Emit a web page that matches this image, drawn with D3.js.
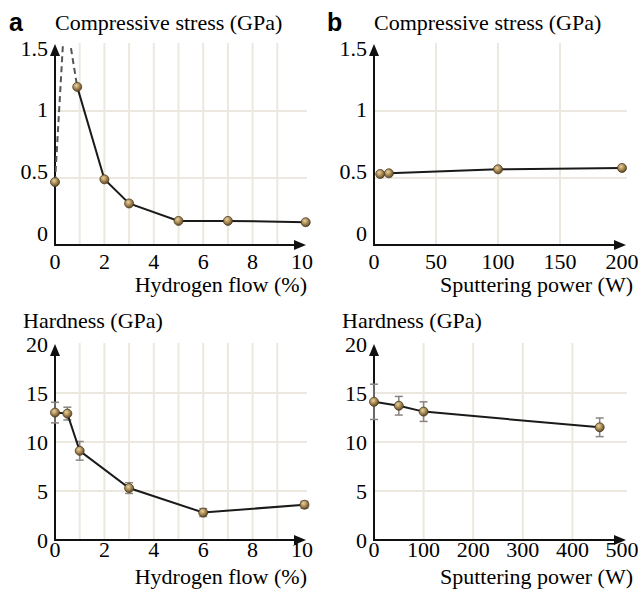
<!DOCTYPE html>
<html>
<head>
<meta charset="utf-8">
<script src="https://cdn.jsdelivr.net/npm/d3@7"></script>
</head>
<body style="margin:0">
<script>
// panel a, top: compressive stress vs hydrogen flow
var aStressX = [0, 0.9, 2, 3, 5, 7, 10.15];
var aStressY = [0.47, 1.18, 0.49, 0.31, 0.18, 0.18, 0.17];
// dashed excursion between first two points (peak off the chart)
var aPeakX = [0, 0.4, 0.9];
var aPeakY = [0.47, 1.75, 1.18];

// panel b, top: compressive stress vs sputtering power
var bStressX = [5, 12, 100, 200];
var bStressY = [0.53, 0.535, 0.565, 0.575];

// panel a, bottom: hardness vs hydrogen flow
var aHardX = [0, 0.5, 1, 3, 6, 10.1];
var aHardY = [13.0, 12.9, 9.1, 5.3, 2.8, 3.6];
var aHardErr = [1.05, 0.65, 0.95, 0.55, 0.4, 0.35];

// panel b, bottom: hardness vs sputtering power
var bHardX = [0, 50, 100, 455];
var bHardY = [14.1, 13.7, 13.1, 11.5];
var bHardErr = [1.8, 0.95, 1.0, 0.95];

var stressTicks = [0, 0.5, 1, 1.5];
var hardTicks = [0, 5, 10, 15, 20];
var flowTicks = [0, 2, 4, 6, 8, 10];
var powerTicksTop = [0, 50, 100, 150, 200];
var powerTicksBottom = [0, 100, 200, 300, 400, 500];

var serifStack = "'Liberation Serif', Tinos, 'Nimbus Roman', 'Times New Roman', FreeSerif, 'DejaVu Serif', serif";

var svg = d3.select("body").append("svg")
  .attr("width", 638)
  .attr("height", 589)
  .style("font-family", serifStack);

var defs = svg.append("defs");
var grad = defs.append("radialGradient")
  .attr("id", "bead")
  .attr("cx", "40%").attr("cy", "35%").attr("r", "65%");
grad.append("stop").attr("offset", "0%").attr("stop-color", "#e6d3a6");
grad.append("stop").attr("offset", "55%").attr("stop-color", "#a8874f");
grad.append("stop").attr("offset", "100%").attr("stop-color", "#5e4a2a");

function label(g, txt, xPos, yPos, anchor) {
  return g.append("text")
    .attr("x", xPos)
    .attr("y", yPos)
    .attr("text-anchor", anchor || "start")
    .style("font-family", serifStack)
    .style("font-size", "22px")
    .text(txt);
}

function drawPanel(p) {
  var x = d3.scaleLinear().domain(p.xDomain).range(p.xRange);
  var y = d3.scaleLinear().domain(p.yDomain).range(p.yRange);
  var g = svg.append("g");
  var x0 = x(p.xDomain[0]), y0 = y(p.yDomain[0]);
  var yTop = y(p.yDomain[1]);

  // grid
  g.selectAll("line.vg")
    .data(p.xGrid)
    .enter().append("line")
    .attr("x1", function(d) { return x(d); })
    .attr("x2", function(d) { return x(d); })
    .attr("y1", yTop - 1)
    .attr("y2", y0)
    .attr("stroke", "#ede8df")
    .attr("stroke-width", 2);
  g.selectAll("line.hg")
    .data(p.yGrid)
    .enter().append("line")
    .attr("x1", x0)
    .attr("x2", p.xRange[1] + 5)
    .attr("y1", function(d) { return y(d); })
    .attr("y2", function(d) { return y(d); })
    .attr("stroke", "#ede8df")
    .attr("stroke-width", 2);

  // axes with arrow heads
  var xTip = p.xRange[1] + 4;
  var yTip = yTop;
  g.append("line")
    .attr("x1", x0).attr("x2", xTip - 8)
    .attr("y1", y0).attr("y2", y0)
    .attr("stroke", "#111").attr("stroke-width", 2);
  g.append("line")
    .attr("x1", x0).attr("x2", x0)
    .attr("y1", y0 + 1).attr("y2", yTip + 8)
    .attr("stroke", "#111").attr("stroke-width", 2);
  g.append("path")
    .attr("d", "M" + xTip + "," + y0 + "L" + (xTip - 12) + "," + (y0 - 5) + "L" + (xTip - 12) + "," + (y0 + 5) + "Z")
    .attr("fill", "#111");
  g.append("path")
    .attr("d", "M" + x0 + "," + yTip + "L" + (x0 - 5) + "," + (yTip + 12) + "L" + (x0 + 5) + "," + (yTip + 12) + "Z")
    .attr("fill", "#111");

  // tick labels
  var yLab = p.yLabelRange ? d3.scaleLinear().domain(p.yDomain).range(p.yLabelRange) : y;
  p.yTicks.forEach(function(d) {
    label(g, d, x0 - 7, yLab(d), "end").attr("dy", "0.35em");
  });
  p.xTicks.forEach(function(d) {
    label(g, d, x(d), p.xTickY, "middle");
  });

  // axis titles
  label(g, p.xTitle, p.xTitleRight, p.xTitleY, "end");
  label(g, p.yTitle, p.yTitleX, p.yTitleY, "start");
  if (p.letter) {
    g.append("text")
      .attr("x", p.letterX)
      .attr("y", 31)
      .style("font-family", "'Liberation Sans', Arimo, Arial, sans-serif")
      .style("font-weight", "bold")
      .style("font-size", "25px")
      .text(p.letter);
  }

  var pts = p.xs.map(function(d, i) {
    return { x: d, y: p.ys[i], e: p.errs ? p.errs[i] : 0 };
  });

  // dashed excursion, clipped at top of plot
  if (p.dashX) {
    var clipId = "clip" + p.id;
    defs.append("clipPath").attr("id", clipId)
      .append("rect")
      .attr("x", x0).attr("y", yTop + 2)
      .attr("width", p.xRange[1] - x0)
      .attr("height", y0 - yTop);
    var dashPts = p.dashX.map(function(d, i) { return [x(d), y(p.dashY[i])]; });
    g.append("path")
      .attr("d", d3.line()(dashPts))
      .attr("clip-path", "url(#" + clipId + ")")
      .attr("fill", "none")
      .attr("stroke", "#555")
      .attr("stroke-width", 2)
      .attr("stroke-dasharray", "6,4");
  }

  // error bars
  if (p.errs) {
    var eb = g.selectAll("g.err")
      .data(pts)
      .enter().append("g")
      .attr("stroke", "#8a8580")
      .attr("stroke-width", 1.5);
    eb.append("line")
      .attr("x1", function(d) { return x(d.x); })
      .attr("x2", function(d) { return x(d.x); })
      .attr("y1", function(d) { return y(d.y - d.e); })
      .attr("y2", function(d) { return y(d.y + d.e); });
    eb.append("line")
      .attr("x1", function(d) { return x(d.x) - 4; })
      .attr("x2", function(d) { return x(d.x) + 4; })
      .attr("y1", function(d) { return y(d.y + d.e); })
      .attr("y2", function(d) { return y(d.y + d.e); });
    eb.append("line")
      .attr("x1", function(d) { return x(d.x) - 4; })
      .attr("x2", function(d) { return x(d.x) + 4; })
      .attr("y1", function(d) { return y(d.y - d.e); })
      .attr("y2", function(d) { return y(d.y - d.e); });
  }

  // solid line
  var solid = p.solidFrom ? pts.slice(p.solidFrom) : pts;
  g.append("path")
    .attr("d", d3.line().x(function(d) { return x(d.x); }).y(function(d) { return y(d.y); })(solid))
    .attr("fill", "none")
    .attr("stroke", "#1a1a1a")
    .attr("stroke-width", 2);

  // markers
  g.selectAll("circle.pt")
    .data(pts)
    .enter().append("circle")
    .attr("cx", function(d) { return x(d.x); })
    .attr("cy", function(d) { return y(d.y); })
    .attr("r", 4.5)
    .attr("fill", "url(#bead)")
    .attr("stroke", "#4a3b22")
    .attr("stroke-width", 0.8);
}

drawPanel({
  id: "a1", letter: "a", letterX: 9,
  xDomain: [0, 10], xRange: [55, 302],
  yDomain: [0, 1.5], yRange: [245, 44], yLabelRange: [233, 48],
  xGrid: [1, 2, 3, 4, 5, 6, 7, 8, 9], yGrid: [0.5, 1],
  xTicks: flowTicks, yTicks: stressTicks, xTickY: 269,
  xTitle: "Hydrogen flow (%)", xTitleRight: 307, xTitleY: 292,
  yTitle: "Compressive stress (GPa)", yTitleX: 55, yTitleY: 30,
  xs: aStressX, ys: aStressY, solidFrom: 1,
  dashX: aPeakX, dashY: aPeakY
});

drawPanel({
  id: "b1", letter: "b", letterX: 327,
  xDomain: [0, 200], xRange: [374, 622],
  yDomain: [0, 1.5], yRange: [245, 44], yLabelRange: [233, 48],
  xGrid: [50, 100, 150], yGrid: [0.5, 1],
  xTicks: powerTicksTop, yTicks: stressTicks, xTickY: 269,
  xTitle: "Sputtering power (W)", xTitleRight: 633, xTitleY: 292,
  yTitle: "Compressive stress (GPa)", yTitleX: 374, yTitleY: 30,
  xs: bStressX, ys: bStressY
});

drawPanel({
  id: "a2",
  xDomain: [0, 10], xRange: [55, 302],
  yDomain: [0, 20], yRange: [540, 344],
  xGrid: [1, 2, 3, 4, 5, 6, 7, 8, 9], yGrid: [5, 10, 15],
  xTicks: flowTicks, yTicks: hardTicks, xTickY: 557,
  xTitle: "Hydrogen flow (%)", xTitleRight: 307, xTitleY: 584,
  yTitle: "Hardness (GPa)", yTitleX: 23, yTitleY: 328,
  xs: aHardX, ys: aHardY, errs: aHardErr
});

drawPanel({
  id: "b2",
  xDomain: [0, 500], xRange: [374, 622],
  yDomain: [0, 20], yRange: [540, 344],
  xGrid: [100, 200, 300, 400], yGrid: [5, 10, 15],
  xTicks: powerTicksBottom, yTicks: hardTicks, xTickY: 557,
  xTitle: "Sputtering power (W)", xTitleRight: 633, xTitleY: 584,
  yTitle: "Hardness (GPa)", yTitleX: 342, yTitleY: 328,
  xs: bHardX, ys: bHardY, errs: bHardErr
});
</script>
</body>
</html>
